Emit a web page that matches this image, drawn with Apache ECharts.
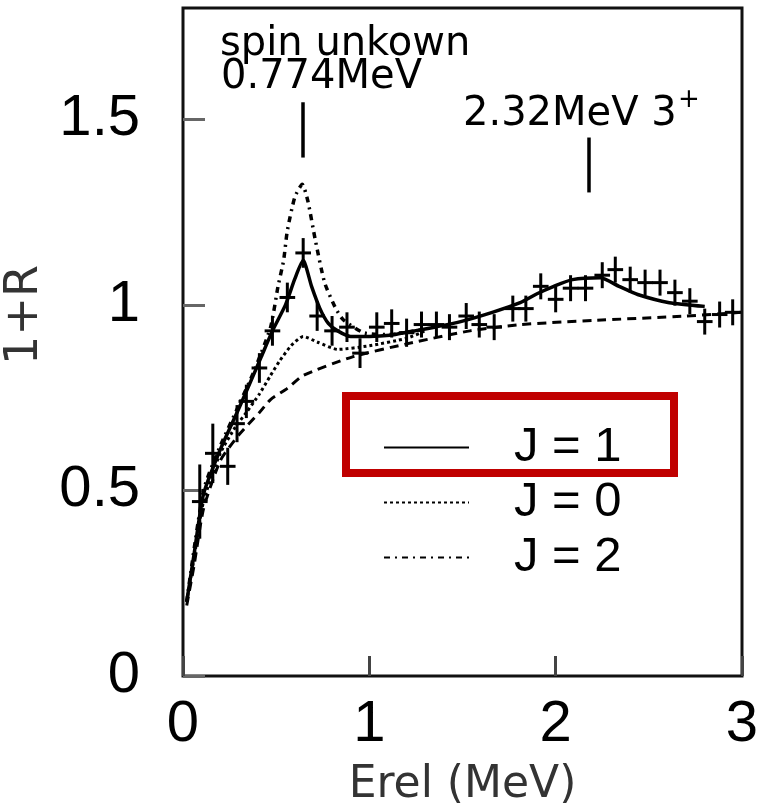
<!DOCTYPE html>
<html>
<head>
<meta charset="utf-8">
<script src="https://cdn.jsdelivr.net/npm/echarts@6/dist/echarts.min.js"></script>
<style>html,body{margin:0;padding:0;background:#fff;}#c{width:758px;height:806px;}</style>
</head>
<body>
<div id="c"></div>
<script>
// ---- data ----
const xTickValues = [0, 1, 2, 3];
const yTickValues = [0, 0.5, 1, 1.5];

// measured points with error bars
const dataX   = [0.09,0.16,0.24,0.29,0.34,0.41,0.48,0.56,0.645,0.72,0.80,0.88,0.95,1.04,1.12,1.20,1.28,1.36,1.43,1.52,1.59,1.67,1.77,1.84,1.92,2.00,2.08,2.16,2.25,2.32,2.40,2.48,2.56,2.64,2.72,2.80,2.88,2.95];
const dataY   = [0.47,0.60,0.565,0.68,0.74,0.83,0.93,1.02,1.14,0.97,0.93,0.94,0.87,0.94,0.95,0.925,0.947,0.947,0.94,0.97,0.947,0.94,0.99,0.99,1.05,1.015,1.045,1.045,1.08,1.095,1.068,1.06,1.06,1.033,1.01,0.955,0.974,0.98];
const dataErr = [0.10,0.08,0.05,0.05,0.045,0.04,0.04,0.04,0.04,0.04,0.04,0.04,0.04,0.04,0.038,0.038,0.035,0.035,0.035,0.035,0.035,0.035,0.035,0.035,0.035,0.035,0.035,0.035,0.035,0.035,0.035,0.035,0.035,0.035,0.035,0.035,0.035,0.035];
const dataXErr = 0.042;

// model curves
const curveJ1 = [[0.02,0.20],[0.06,0.33],[0.11,0.49],[0.20,0.61],[0.29,0.71],[0.36,0.79],[0.42,0.86],[0.48,0.93],[0.55,1.00],[0.60,1.07],[0.645,1.12],[0.69,1.05],[0.735,0.99],[0.78,0.95],[0.83,0.93],[0.90,0.915],[1.00,0.915],[1.11,0.918],[1.22,0.928],[1.35,0.94],[1.49,0.955],[1.66,0.98],[1.81,1.006],[1.90,1.03],[1.99,1.05],[2.09,1.068],[2.24,1.073],[2.34,1.05],[2.44,1.028],[2.61,1.006],[2.80,0.996]];
const curveJ0 = [[0.02,0.20],[0.06,0.32],[0.11,0.47],[0.20,0.60],[0.28,0.67],[0.34,0.71],[0.41,0.76],[0.47,0.81],[0.52,0.85],[0.58,0.89],[0.645,0.915],[0.72,0.90],[0.83,0.88],[1.00,0.89],[1.20,0.91],[1.30,0.93]];
const curveJ2 = [[0.02,0.20],[0.11,0.50],[0.20,0.62],[0.30,0.73],[0.38,0.82],[0.47,0.94],[0.51,1.05],[0.54,1.12],[0.56,1.20],[0.60,1.29],[0.64,1.325],[0.67,1.28],[0.71,1.175],[0.76,1.06],[0.82,0.99],[0.86,0.96],[0.97,0.925],[1.10,0.92],[1.30,0.935]];
const curveBg = [[0.02,0.19],[0.06,0.30],[0.11,0.45],[0.20,0.58],[0.30,0.65],[0.41,0.71],[0.47,0.745],[0.56,0.775],[0.645,0.81],[0.91,0.86],[1.20,0.895],[1.54,0.93],[1.81,0.947],[2.20,0.958],[2.70,0.97],[3.00,0.98]];

// resonance markers
const markerX    = [0.64, 2.18];
const markerLow  = [1.397, 1.303];
const markerHigh = [1.546, 1.451];

const seriesNames = ['J = 1', 'J = 0', 'J = 2'];

// ---- chart ----
const chart = echarts.init(document.getElementById('c'), null, {renderer: 'canvas'});

const pointData = dataX.map((x, i) => [x, dataY[i], dataErr[i]]);

const markerLines = markerX.map((x, i) => [{coord: [x, markerLow[i]]}, {coord: [x, markerHigh[i]]}]);

const lineCommon = {showSymbol: false, symbol: 'none', symbolSize: 0, smooth: 0.2, itemStyle: {color: '#000'}};

const option = {
  animation: false,
  backgroundColor: '#ffffff',
  grid: {left: 183, right: 16, top: 8, bottom: 130, outerBoundsMode: 'none', containLabel: false,
    show: true, borderColor: '#111', borderWidth: 3, backgroundColor: 'transparent'},
  xAxis: {
    type: 'value', min: 0, max: 3, interval: 1,
    axisLine: {show: false},
    axisTick: {show: true, inside: true, length: 20, lineStyle: {color: '#444', width: 3}},
    splitLine: {show: false},
    axisLabel: {fontFamily: 'Liberation Sans', fontSize: 58, color: '#000', margin: 20,
      formatter: v => xTickValues.includes(v) ? String(v) : ''},
    name: 'Erel (MeV)', nameLocation: 'middle', nameGap: 88,
    nameTextStyle: {fontFamily: 'DejaVu Sans', fontSize: 44, color: '#333'}
  },
  yAxis: {
    type: 'value', min: 0, max: 1.8, interval: 0.5,
    axisLine: {show: false},
    axisTick: {show: true, inside: true, length: 22, lineStyle: {color: '#666', width: 3}},
    splitLine: {show: false},
    axisLabel: {fontFamily: 'Liberation Sans', fontSize: 58, color: '#000', margin: 43, showMaxLabel: false,
      formatter: v => yTickValues.includes(v) ? String(v) : ''},
    name: '1+R', nameLocation: 'middle', nameGap: 112, nameRotate: 90,
    nameTextStyle: {fontFamily: 'DejaVu Sans', fontSize: 46, color: '#333', padding: [0, 0, 0, 54]}
  },
  legend: {
    orient: 'vertical', left: 378, top: 415, itemWidth: 85, itemHeight: 12, itemGap: 0,
    selectedMode: false, data: seriesNames,
    itemStyle: {opacity: 0},
    textStyle: {fontFamily: 'Liberation Sans', fontSize: 49, color: '#000', lineHeight: 55, padding: [0, 0, 0, 40]}
  },
  series: [
    Object.assign({name: 'J = 1', type: 'line', data: curveJ1, z: 5,
      lineStyle: {color: '#000', width: 3.5, type: 'solid'},
      markLine: {symbol: 'none', silent: true, label: {show: false},
        lineStyle: {color: '#000', width: 3.5, type: 'solid'}, data: markerLines}}, lineCommon),
    Object.assign({name: 'J = 0', type: 'line', data: curveJ0, z: 4,
      lineStyle: {color: '#000', width: 3, type: [3, 3]}}, lineCommon),
    Object.assign({name: 'J = 2', type: 'line', data: curveJ2, z: 4,
      lineStyle: {color: '#000', width: 3.5, type: [6, 5, 2, 5]}}, lineCommon),
    Object.assign({name: 'no resonance', type: 'line', data: curveBg, z: 3,
      lineStyle: {color: '#000', width: 3, type: [9, 6]}}, lineCommon),
    {name: 'data', type: 'custom', z: 6, data: pointData,
      renderItem: function (params, api) {
        const x = api.value(0), y = api.value(1), e = api.value(2);
        const l = api.coord([x - dataXErr, y]), r = api.coord([x + dataXErr, y]);
        const t = api.coord([x, y + e]), b = api.coord([x, y - e]);
        const st = {stroke: '#000', lineWidth: 3};
        return {type: 'group', children: [
          {type: 'line', shape: {x1: l[0], y1: l[1], x2: r[0], y2: r[1]}, style: st},
          {type: 'line', shape: {x1: t[0], y1: t[1], x2: b[0], y2: b[1]}, style: st}
        ]};
      }}
  ],
  graphic: [
    {type: 'text', x: 220, y: 45, z: 50, style: {text: 'spin unkown', font: '40px "DejaVu Sans"', fill: '#000', textVerticalAlign: 'middle'}},
    {type: 'text', x: 221, y: 78, z: 50, style: {text: '0.774MeV', font: '40px "DejaVu Sans"', fill: '#000', textVerticalAlign: 'middle'}},
    {type: 'text', x: 463, y: 115, z: 50, style: {text: '2.32MeV 3', font: '40px "DejaVu Sans"', fill: '#000', textVerticalAlign: 'middle'}},
    {type: 'text', x: 678, y: 100, z: 50, style: {text: '+', font: '26px "DejaVu Sans"', fill: '#000', textVerticalAlign: 'middle'}},
    {type: 'rect', z: 60, shape: {x: 346, y: 396, width: 328, height: 77}, style: {fill: 'none', stroke: '#C00000', lineWidth: 8}}
  ]
};
chart.setOption(option);
</script>
</body>
</html>
